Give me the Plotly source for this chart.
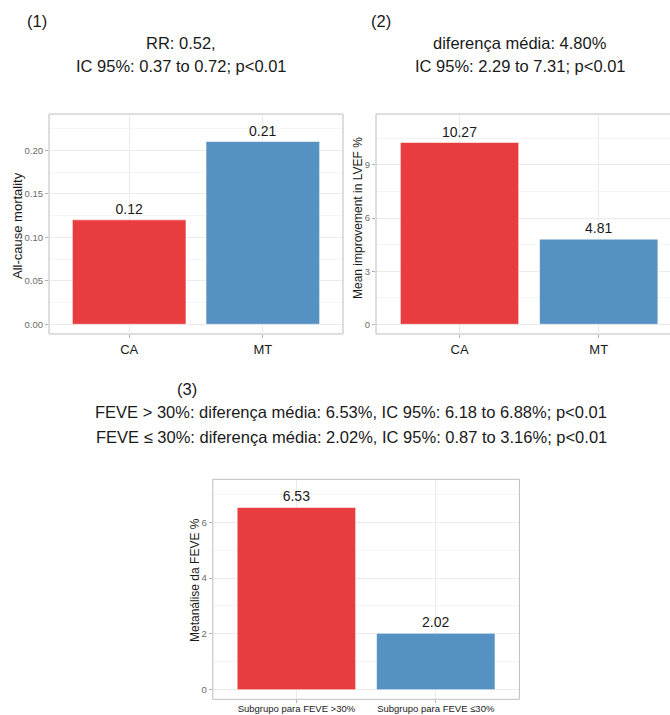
import plotly.graph_objects as go

# Panel data
groups_12 = ["CA", "MT"]
mortality = [0.12, 0.21]
lvef_improvement = [10.27, 4.81]

subgroups = ["Subgrupo para FEVE >30%", "Subgrupo para FEVE ≤30%"]
feve_diff = [6.53, 2.02]

bar_colors = ["#E83C3E", "#5591C2"]

title_1 = ["(1)", "RR: 0.52,", "IC 95%: 0.37 to 0.72; p<0.01"]
title_2 = ["(2)", "diferença média: 4.80%", "IC 95%: 2.29 to 7.31; p<0.01"]
title_3 = ["(3)",
           "FEVE > 30%: diferença média: 6.53%, IC 95%: 6.18 to 6.88%; p<0.01",
           "FEVE ≤ 30%: diferença média: 2.02%, IC 95%: 0.87 to 3.16%; p<0.01"]

ytitle_1 = "All-cause mortality"
ytitle_2 = "Mean improvement in LVEF %"
ytitle_3 = "Metanálise da FEVE %"

W, H = 670, 715
FONT = "Liberation Sans, Arial, sans-serif"


def px_x(v):
    return v / W


def px_y(v):
    return 1 - v / H


fig = go.Figure()

fig.add_trace(go.Bar(x=groups_12, y=mortality, xaxis="x", yaxis="y",
                     texttemplate="%{y:.2f}"))
fig.add_trace(go.Bar(x=groups_12, y=lvef_improvement, xaxis="x2", yaxis="y2",
                     texttemplate="%{y:.2f}"))
fig.add_trace(go.Bar(x=subgroups, y=feve_diff, xaxis="x3", yaxis="y3",
                     texttemplate="%{y:.2f}"))

fig.update_traces(marker=dict(color=bar_colors,
                              line=dict(color="rgba(255,255,255,0.55)", width=1)),
                  width=0.85, textposition="outside", cliponaxis=False,
                  textfont=dict(family=FONT, size=14, color="#1a1a1a"),
                  showlegend=False)

grid = dict(showgrid=True, gridcolor="#EBEBEB", gridwidth=1, zeroline=False,
            ticks="outside", ticklen=3, tickcolor="#B3B3B3", showline=False,
            fixedrange=True, automargin=False, tickangle=0)
ytick_font = dict(family=FONT, size=9.5, color="#6b6b6b")
xtick_font = dict(family=FONT, size=13, color="#1a1a1a")
minor_grid = dict(showgrid=True, gridcolor="#F5F5F5", gridwidth=1, ticks="")

dom1x = [px_x(49), px_x(343)]
dom2x = [px_x(376), 1.0]
dom3x = [px_x(212.8), px_x(519.4)]
dom12y = [px_y(334), px_y(114)]
dom3y = [px_y(699.3), px_y(479.3)]

fig.update_layout(
    width=W, height=H, margin=dict(l=0, r=0, t=0, b=0),
    paper_bgcolor="white", plot_bgcolor="white",
    xaxis=dict(domain=dom1x, anchor="y", range=[-0.6, 1.6],
               tickfont=xtick_font, **grid),
    yaxis=dict(domain=dom12y, anchor="x", range=[-0.0112, 0.2417],
               tickvals=[0, 0.05, 0.10, 0.15, 0.20], tickformat=".2f",
               tickfont=ytick_font,
               minor=dict(tickvals=[0.025, 0.075, 0.125, 0.175, 0.225], **minor_grid),
               **grid),
    xaxis2=dict(domain=dom2x, anchor="y2", range=[-0.6, 1.512],
                tickfont=xtick_font, **grid),
    yaxis2=dict(domain=dom12y, anchor="x2", range=[-0.548, 11.88],
                tickvals=[0, 3, 6, 9], tickfont=ytick_font,
                minor=dict(tickvals=[1.5, 4.5, 7.5, 10.5], **minor_grid),
                **grid),
    xaxis3=dict(domain=dom3x, anchor="y3", range=[-0.6, 1.6],
                tickfont=dict(family=FONT, size=9.5, color="#1a1a1a"),
                ticklabelstandoff=-3, **grid),
    yaxis3=dict(domain=dom3y, anchor="x3", range=[-0.344, 7.54],
                tickvals=[0, 2, 4, 6], tickfont=ytick_font,
                minor=dict(tickvals=[1, 3, 5, 7], **minor_grid),
                **grid),
)

# Panel borders
for xr, yr, x1 in [("x domain", "y domain", 1), ("x2 domain", "y2 domain", 1.05),
                   ("x3 domain", "y3 domain", 1)]:
    fig.add_shape(type="rect", xref=xr, yref=yr, x0=0, x1=x1, y0=0, y1=1,
                  line=dict(color="#BDBDBD", width=1), layer="above")

annotations = []


def add_text(text, x, y, size, angle=0):
    annotations.append(dict(text=text, x=px_x(x), y=px_y(y), xref="paper",
                            yref="paper", showarrow=False, xanchor="center",
                            yanchor="middle", textangle=angle,
                            font=dict(family=FONT, size=size, color="#1a1a1a")))


# Panel titles
add_text(title_1[0], 37, 21, 16.5)
add_text(title_1[1], 181, 43, 16.5)
add_text(title_1[2], 182, 66, 16.5)
add_text(title_2[0], 381, 21, 16.5)
add_text(title_2[1], 520, 43, 16.5)
add_text(title_2[2], 520, 66, 16.5)
add_text(title_3[0], 187, 389, 16.5)
add_text(title_3[1], 351, 412, 16.5)
add_text(title_3[2], 351, 437, 16.5)

# Axis titles
add_text(ytitle_1, 18, 226, 13, angle=-90)
add_text(ytitle_2, 358, 218, 12, angle=-90)
add_text(ytitle_3, 195, 580, 12, angle=-90)

fig.update_layout(annotations=annotations)

fig.write_html("out.html")
